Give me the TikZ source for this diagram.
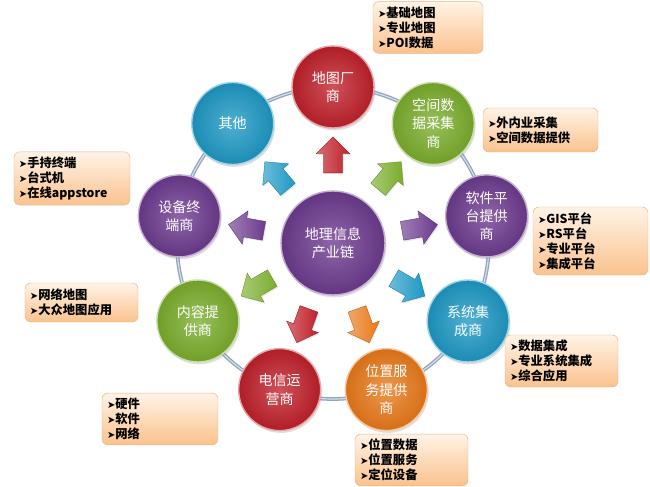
\documentclass[tikz,border=0pt]{standalone}
\usepackage{fontspec}
\setmainfont{Noto Sans CJK SC}
\newfontfamily\symfont{DejaVu Sans}
\usetikzlibrary{shapes.arrows,shadows,calc}

\definecolor{dred}{HTML}{C0202A}
\definecolor{dgreen}{HTML}{7AAD2C}
\definecolor{dpurple}{HTML}{6C3A8E}
\definecolor{dblue}{HTML}{1E98C4}
\definecolor{dorange}{HTML}{E8791A}
\definecolor{ringline}{HTML}{8FA5BE}
\definecolor{boxtop}{HTML}{FFF3E6}
\definecolor{boxbot}{HTML}{FAC28E}
\definecolor{boxedge}{HTML}{E3B78E}

\newcommand{\bul}{{\symfont\fontsize{8.5}{8}\selectfont ➤}}

\tikzset{
    ringball/.style={circle, minimum size=2.46cm, inner sep=0pt, align=center, text=white,
        font=\fontsize{12}{15.5}\selectfont, inner color=#1!78!white, outer color=#1!92!black,
        draw=#1!40!white, line width=1.2pt,
        drop shadow={opacity=0.25, shadow xshift=0.04cm, shadow yshift=-0.07cm}},
    outarrow/.style={single arrow, minimum height=1.08cm, single arrow head extend=0.22cm,
        inner sep=0pt, left color=#1!65!white, right color=#1, draw=#1!80!black, line width=0.3pt,
        drop shadow={opacity=0.2, shadow xshift=0.03cm, shadow yshift=-0.04cm}},
    infobox/.style 2 args={draw=boxedge, rounded corners=5pt, top color=boxtop, bottom color=boxbot,
        align=left, font=\fontsize{10.5}{12.8}\selectfont\bfseries, inner sep=0.15cm,
        text width=#1, minimum height=#2}
}

\begin{document}
\begin{tikzpicture}[x=0.03cm, y=-0.03cm]
        \useasboundingbox (0, 0) rectangle (650, 487);
        \coordinate (c) at (333, 243);

        \draw[ringline, line width=3.2pt] (c) circle (4.68cm);
        \draw[ringline!35!white, line width=1pt] (c) circle (4.68cm);

        \foreach \a/\col [count=\i] in {90/dred, 50/dgreen, 10/dpurple, -30/dblue, -70/dorange,
                -110/dred, -150/dgreen, 170/dpurple, 130/dblue} {
            \node[outarrow=\col, rotate=\a] (arr\i) at ($(c)+(\a:2.5cm)$) {\rule{0pt}{0.56cm}};
        }

        \node[ringball=dpurple, minimum size=3.12cm] (chanye) at (c) {地理信息\\产业链};

        \foreach \a/\col/\nm/\txt in {90/dred/ditu/{地图厂\\商}, 50/dgreen/kongjian/{空间数\\据采集\\商},
                10/dpurple/ruanjian/{软件平\\台提供\\商}, -30/dblue/xitong/{系统集\\成商},
                -70/dorange/weizhi/{位置服\\务提供\\商}, -110/dred/dianxin/{电信运\\营商},
                -150/dgreen/neirong/{内容提\\供商}, 170/dpurple/shebei/{设备终\\端商},
                130/dblue/qita/{其他}} {
            \node[ringball=\col] (\nm) at ($(c)+(\a:4.68cm)$) {\txt};
        }

        \node[infobox={3.0cm}{1.41cm}] (box1) at (428, 27.5)
            {\bul 基础地图\\ \bul 专业地图\\ \bul POI数据};
        \node[infobox={3.15cm}{1.32cm}] (box2) at (540.5, 130)
            {\bul 外内业采集\\ \bul 空间数据提供};
        \node[infobox={3.18cm}{1.59cm}] (box3) at (72, 178.5)
            {\bul 手持终端\\ \bul 台式机\\ \bul 在线appstore};
        \node[infobox={3.15cm}{2.04cm}] (box4) at (590.5, 241)
            {\bul GIS平台\\ \bul RS平台\\ \bul 专业平台\\ \bul 集成平台};
        \node[infobox={3.09cm}{1.17cm}] (box5) at (81.5, 302.5)
            {\bul 网络地图\\ \bul 大众地图应用};
        \node[infobox={3.09cm}{1.44cm}] (box6) at (561.5, 361)
            {\bul 数据集成\\ \bul 专业系统集成\\ \bul 综合应用};
        \node[infobox={3.18cm}{1.44cm}] (box7) at (160, 419)
            {\bul 硬件\\ \bul 软件\\ \bul 网络};
        \node[infobox={3.09cm}{1.5cm}] (box8) at (411.5, 460)
            {\bul 位置数据\\ \bul 位置服务\\ \bul 定位设备};
    \end{tikzpicture}
\end{document}
